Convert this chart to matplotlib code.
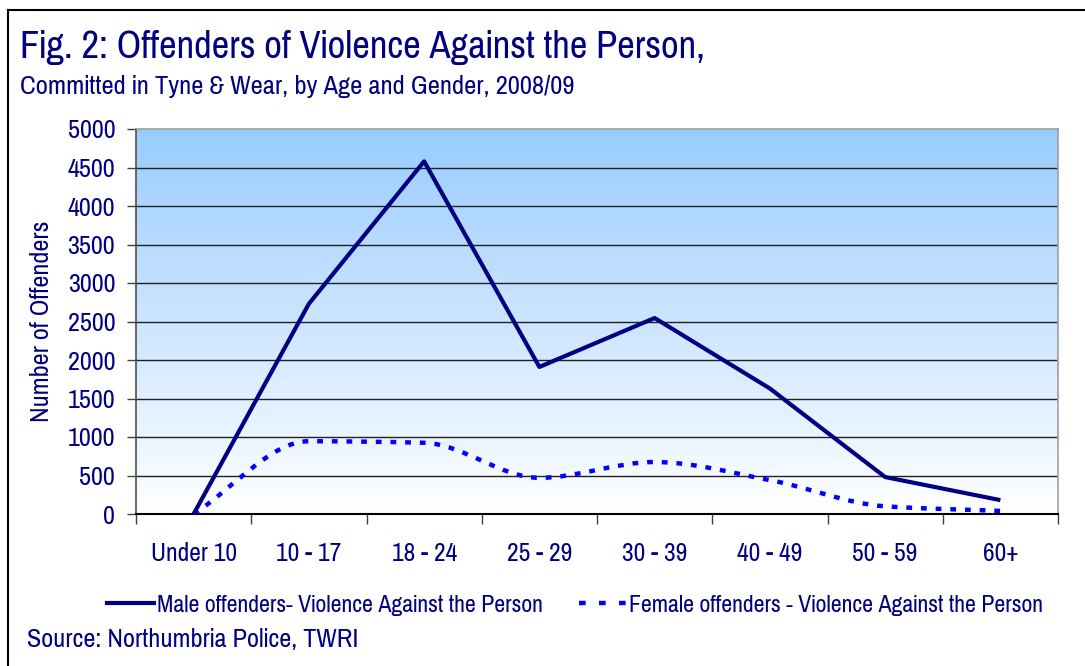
import numpy as np
import matplotlib
matplotlib.use("Agg")
import matplotlib.pyplot as plt
from matplotlib.path import Path
from matplotlib.patches import PathPatch
from matplotlib.lines import Line2D
from matplotlib.colors import LinearSegmentedColormap

categories = ["Under 10", "10 - 17", "18 - 24", "25 - 29", "30 - 39", "40 - 49", "50 - 59", "60+"]
male = [0, 2730, 4580, 1910, 2545, 1630, 480, 180]
female = [0, 945, 925, 470, 675, 440, 100, 40]
yticks = [0, 500, 1000, 1500, 2000, 2500, 3000, 3500, 4000, 4500, 5000]

NAVY = "#000080"
FAM = ["Pragati Narrow", "Liberation Sans", "DejaVu Sans"]
plt.rcParams["font.family"] = FAM

W, H = 1085, 666
fig = plt.figure(figsize=(W / 100, H / 100), dpi=100)
fig.patch.set_facecolor("white")

ax = fig.add_axes([136 / W, 1 - 514 / H, (1058 - 136) / W, (514 - 129) / H])

# gradient background
cmap = LinearSegmentedColormap.from_list("bg", ["#FFFFFF", "#99CCFF"])
grad = np.linspace(0, 1, 256).reshape(-1, 1)
ax.imshow(grad, extent=[0, 1, 0, 1], transform=ax.transAxes, origin="lower",
          cmap=cmap, aspect="auto", zorder=0)

x = np.arange(len(categories))
ax.set_xlim(-0.5, len(categories) - 0.5)
ax.set_ylim(0, 5000)
ax.set_yticks(yticks)
ax.set_yticklabels([str(v) for v in yticks])
for v in yticks[1:-1]:
    ax.axhline(v, color="#202020", lw=1.0, zorder=1)

# smoothed female line: monotone cubic (no overshoot) drawn as Bezier segments
pts = np.column_stack([x, female]).astype(float)
n = len(pts)
d = np.diff(pts[:, 1])
m = np.zeros(n)
m[0] = d[0]
m[-1] = d[-1]
for i in range(1, n - 1):
    if d[i - 1] * d[i] <= 0:
        m[i] = 0.0
    else:
        m[i] = 2.0 / (1.0 / d[i - 1] + 1.0 / d[i])
verts = [tuple(pts[0])]
codes = [Path.MOVETO]
for i in range(n - 1):
    p1, p2 = pts[i], pts[i + 1]
    c1 = (p1[0] + 1 / 3, p1[1] + m[i] / 3)
    c2 = (p2[0] - 1 / 3, p2[1] - m[i + 1] / 3)
    verts += [c1, c2, tuple(p2)]
    codes += [Path.CURVE4] * 3
fpatch = PathPatch(Path(verts, codes), fill=False, edgecolor="#0000FF", lw=3.2,
                   linestyle=(0, (1.3, 2.0)), capstyle="butt", zorder=3)
ax.add_patch(fpatch)

ax.plot(x, male, color=NAVY, lw=3.0, zorder=4, solid_capstyle="butt")

# axes styling
ax.set_xticks(x)
ax.set_xticklabels(categories)
ax.set_xticks(np.arange(-0.5, len(categories)), minor=True)
ax.tick_params(axis="x", which="major", length=0, pad=20, labelsize=20, labelcolor=NAVY)
ax.tick_params(axis="x", which="minor", length=7, width=1, color="#404040", direction="out")
ax.tick_params(axis="y", length=6.5, width=1, color="#404040", labelsize=20.5, labelcolor=NAVY, pad=8.5)
for s in ["top", "right"]:
    ax.spines[s].set_color("#A0A0A0")
    ax.spines[s].set_linewidth(1.2)
ax.spines["left"].set_color("#505050")
ax.spines["bottom"].set_color("#000000")
ax.spines["left"].set_linewidth(1.2)
ax.spines["bottom"].set_linewidth(1.5)
ax.set_ylabel("Number of Offenders", fontsize=20.5, color=NAVY)
ax.yaxis.set_label_coords((53 - 136) / 922, (514 - 321) / 385)

# titles
fig.text(20 / W, 1 - 58 / H, "Fig. 2: Offenders of Violence Against the Person,",
         fontsize=30.2, color=NAVY, va="baseline", ha="left")
fig.text(20 / W, 1 - 94 / H, "Committed in Tyne & Wear, by Age and Gender, 2008/09",
         fontsize=20.8, color=NAVY, va="baseline", ha="left")
fig.text(27 / W, 1 - 647 / H, "Source: Northumbria Police, TWRI",
         fontsize=20.6, color=NAVY, va="baseline", ha="left")

# legend
h1 = Line2D([], [], color=NAVY, lw=3.0)
h2 = Line2D([], [], color="#0000FF", lw=3.2, linestyle=(0, (1.5, 3.0)))
leg = fig.legend([h1, h2],
                 ["Male offenders- Violence Against the Person",
                  "Female offenders - Violence Against the Person"],
                 loc="center left", bbox_to_anchor=(107 / W, 1 - 605 / H),
                 ncol=2, frameon=False, fontsize=18.7, handlelength=1.8,
                 handletextpad=0.12, columnspacing=1.4, borderaxespad=0,
                 borderpad=0)
for t in leg.get_texts():
    t.set_color(NAVY)

# figure frame (top and left borders)
fig.add_artist(Line2D([8 / W, 1], [1 - 10 / H, 1 - 10 / H], color="black", lw=1.5,
                      transform=fig.transFigure))
fig.add_artist(Line2D([8 / W, 8 / W], [0, 1 - 10 / H], color="black", lw=1.5,
                      transform=fig.transFigure))

fig.savefig("out.png", dpi=100)
